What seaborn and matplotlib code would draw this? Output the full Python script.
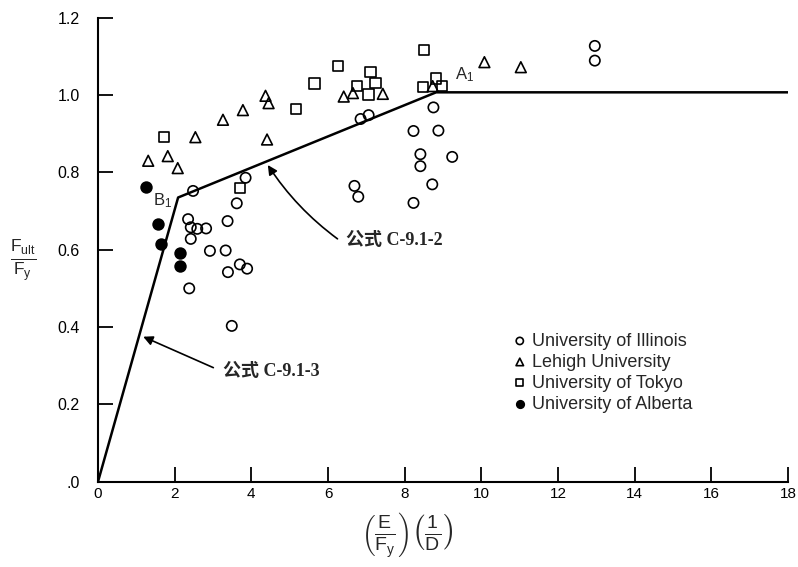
import numpy as np
import pandas as pd
import seaborn as sns
import matplotlib.pyplot as plt

# test data
illinois_x = [3.85, 2.48, 3.62, 2.35, 3.38, 2.42, 2.59, 2.82, 2.42, 2.92, 3.33, 3.70, 3.39, 3.89, 2.38, 3.49,
              6.85, 7.06, 8.75, 8.23, 8.88, 8.41, 8.41, 9.24, 6.69, 6.79, 8.72, 8.23, 12.96, 12.96]
illinois_y = [0.786, 0.752, 0.720, 0.679, 0.674, 0.658, 0.654, 0.655, 0.628, 0.597, 0.598, 0.562, 0.542, 0.551, 0.500, 0.403,
              0.938, 0.948, 0.968, 0.907, 0.908, 0.847, 0.816, 0.840, 0.765, 0.737, 0.769, 0.721, 1.127, 1.089]

lehigh_x = [1.31, 1.82, 2.08, 2.54, 3.26, 3.78, 4.37, 4.45, 4.41, 6.41, 6.65, 7.43, 8.73, 10.08, 11.03]
lehigh_y = [0.830, 0.842, 0.811, 0.891, 0.936, 0.961, 0.998, 0.979, 0.885, 0.996, 1.005, 1.003, 1.023, 1.085, 1.072]

tokyo_x = [1.73, 3.70, 5.16, 5.65, 6.26, 6.76, 7.11, 7.24, 7.06, 8.50, 8.82, 8.47, 8.97]
tokyo_y = [0.891, 0.760, 0.963, 1.030, 1.075, 1.023, 1.059, 1.032, 1.001, 1.116, 1.043, 1.020, 1.023]

alberta_x = [1.24, 1.56, 1.64, 2.13, 2.13]
alberta_y = [0.762, 0.667, 0.616, 0.591, 0.559]

# design curve (C-9.1-3 up to B1, C-9.1-2 up to A1, then flat)
curve_x = [0, 2.09, 8.82, 18]
curve_y = [0, 0.735, 1.007, 1.007]

groups = [
    ("University of Illinois", illinois_x, illinois_y, "o", "none", 55),
    ("Lehigh University", lehigh_x, lehigh_y, "^", "none", 60),
    ("University of Tokyo", tokyo_x, tokyo_y, "s", "none", 55),
    ("University of Alberta", alberta_x, alberta_y, "o", "black", 60),
]

sns.set_style("ticks")
plt.rcParams['font.family'] = ['Liberation Sans', 'Noto Sans CJK SC']
plt.rcParams['mathtext.fontset'] = 'custom'
plt.rcParams['mathtext.rm'] = 'Liberation Sans'
plt.rcParams['mathtext.it'] = 'Liberation Sans'
plt.rcParams['mathtext.bf'] = 'Liberation Sans:bold'

fig = plt.figure(figsize=(7.98, 5.67), dpi=100)
ax = fig.add_axes([0.1228, 0.1504, 0.8647, 0.8184])

curve = pd.DataFrame({"x": curve_x, "y": curve_y})
sns.lineplot(data=curve, x="x", y="y", color="black", linewidth=1.8, ax=ax, sort=False)

for name, xs, ys, mk, fc, sz in groups:
    df = pd.DataFrame({"x": xs, "y": ys})
    sns.scatterplot(data=df, x="x", y="y", marker=mk, s=sz, facecolor=fc,
                    edgecolor="black", linewidth=1.2, label=name, ax=ax, zorder=3)

ax.set_xlim(0, 18)
ax.set_ylim(0, 1.2)
ax.set_xticks(np.arange(0, 19, 2))
ax.set_yticks([0, 0.2, 0.4, 0.6, 0.8, 1.0, 1.2])
ax.set_yticklabels([".0", "0.2", "0.4", "0.6", "0.8", "1.0", "1.2"])
ax.tick_params(axis="both", direction="in", length=11, width=1.3, colors="black")
ax.tick_params(axis="y", pad=13, labelsize=11.5)
ax.tick_params(axis="x", pad=4, labelsize=11)
sns.despine(ax=ax)
for sp in ["left", "bottom"]:
    ax.spines[sp].set_linewidth(1.5)
    ax.spines[sp].set_color("black")
ax.set_xlabel("")
ax.set_ylabel("")

fig.text(0.029, 0.54, r"$\frac{F_{\mathrm{ult}}}{F_{\mathrm{y}}}$", fontsize=18, ha="center", va="center")
fig.text(0.51, 0.055, r"$\left(\frac{E}{F_{\mathrm{y}}}\right)\left(\frac{1}{D}\right)$",
         fontsize=20, ha="center", va="center")

ax.text(1.43, 0.728, r"B$_1$", fontsize=12, ha="left", va="center")
ax.text(9.3, 1.052, r"A$_1$", fontsize=12, ha="left", va="center")

lab_font = dict(fontsize=13, fontweight="bold", family=["Liberation Serif", "Noto Sans CJK SC"])
ax.annotate("公式 C-9.1-2", xy=(4.43, 0.819), xytext=(6.48, 0.625), va="center", ha="left",
            arrowprops=dict(arrowstyle="-|>", color="black", lw=1.2, mutation_scale=14,
                            connectionstyle="arc3,rad=-0.1", relpos=(0, 0.2),
                            shrinkA=5, shrinkB=0),
            **lab_font)
ax.annotate("公式 C-9.1-3", xy=(1.18, 0.375), xytext=(3.26, 0.284), va="center", ha="left",
            arrowprops=dict(arrowstyle="-|>", color="black", lw=1.2, mutation_scale=14,
                            relpos=(0, 0.5), shrinkA=5, shrinkB=0),
            **lab_font)

ax.legend(loc="upper left", bbox_to_anchor=(0.631, 0.426), bbox_transform=fig.transFigure,
          frameon=False, fontsize=13, markerscale=0.7, handletextpad=0.2,
          labelspacing=0.22, handlelength=1.0, borderaxespad=0)

plt.savefig("out.png", dpi=100)
